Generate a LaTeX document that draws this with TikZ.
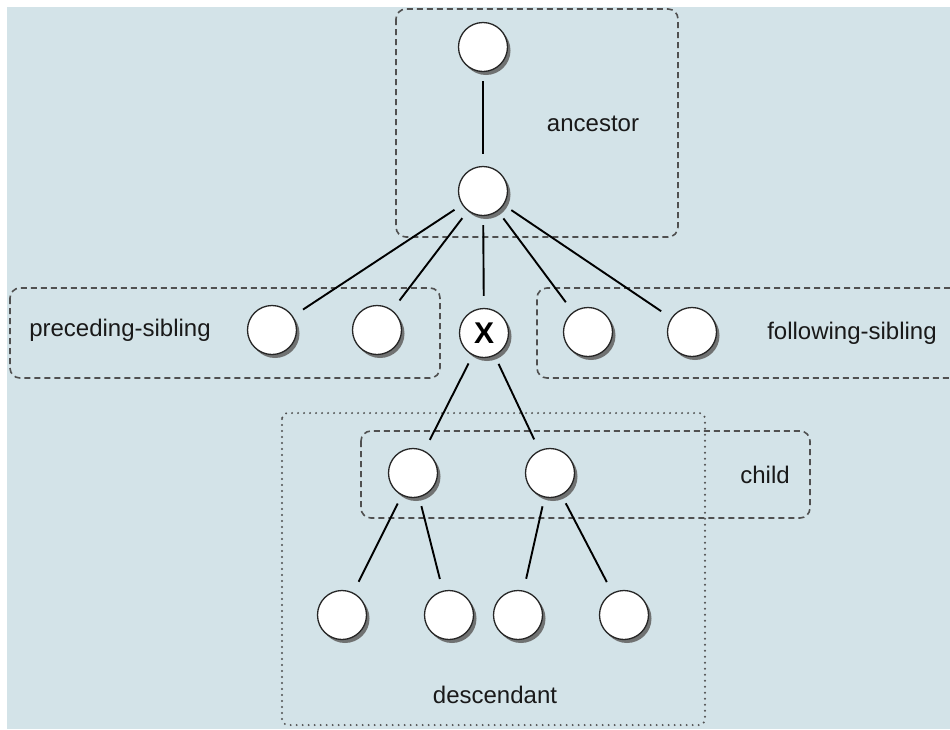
\documentclass[tikz,border=0pt]{standalone}
\usepackage{fontspec}
\setmainfont{Liberation Sans}
\usetikzlibrary{shadows,positioning,calc}
\definecolor{bgblue}{RGB}{211,227,232}
\definecolor{boxgray}{RGB}{80,80,80}
\tikzset{
    tnode/.style = {draw=black!85, circle, fill=white,
        minimum size=49pt, inner sep=0pt, line width=1.3pt,
        drop shadow={shadow xshift=3pt, shadow yshift=-3.5pt, fill=black!60, opacity=0.9}},
    edge/.style = {draw, line width=1.9pt, shorten <=9pt, shorten >=12pt},
    axisbox/.style = {draw=boxgray, line width=1.6pt, dash pattern=on 6pt off 4pt, rounded corners=10pt},
    dotbox/.style = {draw=boxgray, line width=2.2pt, line cap=round, dash pattern=on 0pt off 6pt, rounded corners=6pt},
    lbl/.style = {font=\fontsize{24}{28}\selectfont, text=black!90}
}

\begin{document}
\begin{tikzpicture}[x=1pt, y=-1pt]
    \useasboundingbox (0,0) rectangle (950,729);
    \fill[white] (0,0) rectangle (950,729);
    \fill[bgblue] (7,7) rectangle (950,729);
    % axis boxes
    \draw[axisbox] (396,9) rectangle (678,237);
    \draw[axisbox] (10,288) rectangle (440,378);
    \draw[axisbox] (950,288) -- (537,288) -- (537,378) -- (950,378);
    \draw[dotbox] (282,413) rectangle (705,725);
    \draw[axisbox] (361,431) rectangle (810,518);
    % tree
    \node[tnode] (anc1) at (483,47) {};
    \node[tnode] (anc2) at (483,191) {};
    \node[tnode, font=\fontsize{30}{32}\selectfont\bfseries] (x) at (484,333) {X};
    \node[tnode] (prec1) at (272,330) {};
    \node[tnode] (prec2) at (377,330) {};
    \node[tnode] (foll1) at (588,332) {};
    \node[tnode] (foll2) at (692,332) {};
    \node[tnode] (child1) at (413,473) {};
    \node[tnode] (child2) at (550,473) {};
    \foreach \a/\xx in {1/342,2/449,3/518,4/624}{
        \node[tnode] (desc\a) at (\xx,615) {};
    }
    \draw[edge] (anc1) -- (anc2);
    \foreach \a in {prec1,prec2,x,foll1,foll2}{
        \draw[edge] (anc2) -- (\a);
    }
    \foreach \a in {child1,child2}{
        \draw[edge] (x) -- (\a);
    }
    \draw[edge] (child1) -- (desc1);
    \draw[edge] (child1) -- (desc2);
    \draw[edge] (child2) -- (desc3);
    \draw[edge] (child2) -- (desc4);
    % labels
    \node[lbl] (ancl) at (593,124) {ancestor};
    \node[lbl] (precl) at (120,330) {preceding-sibling};
    \node[lbl] (folll) at (852,333) {following-sibling};
    \node[lbl] (childl) at (765,475) {child};
    \node[lbl] (descl) at (495,695) {descendant};
\end{tikzpicture}
\end{document}
